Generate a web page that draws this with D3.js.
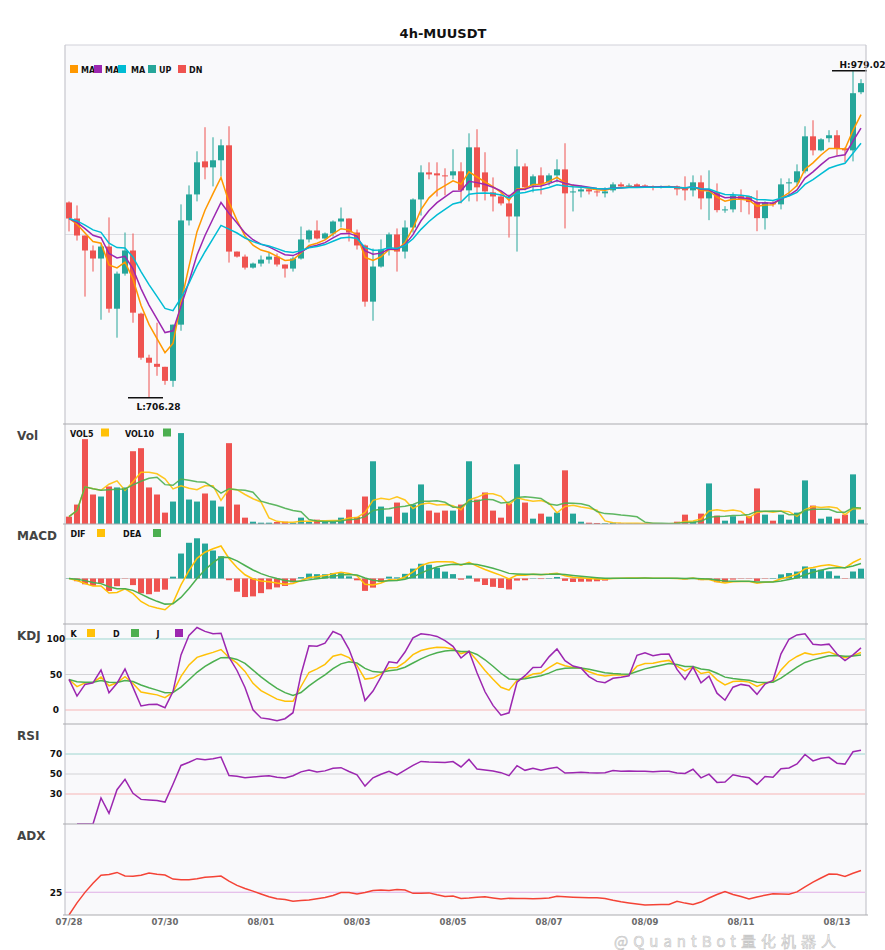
<!DOCTYPE html>
<html><head><meta charset="utf-8">
<script src="https://cdn.jsdelivr.net/npm/d3@7"></script>
<style>
body{margin:0;background:#fff;}
svg{display:block;font-family:"DejaVu Sans",sans-serif;}
</style>
</head><body>
<svg id="c" width="885" height="950"></svg>
<script>
// ---------- data ----------
const title = "4h-MUUSDT";
const openP = [869.4,856.0,841.8,829.3,822.6,832.6,780.7,810.0,829.3,776.6,
739.8,734.7,732.2,720.5,767.4,854.4,876.1,903.7,898.7,904.6,
917.1,828.4,824.2,815.0,818.4,821.7,824.2,817.6,814.2,822.6,
838.5,846.0,839.3,843.5,853.5,856.0,844.3,833.5,786.6,815.9,
830.1,842.7,828.4,848.5,871.9,894.5,893.7,892.0,892.0,895.4,
879.5,915.4,894.5,877.8,874.4,868.6,857.7,899.5,883.6,892.0,
886.2,892.0,897.0,877.8,878.6,880.3,878.6,877.0,879.5,884.5,
882.8,884.5,883.6,882.8,882.0,882.0,882.8,882.0,879.5,886.2,
872.8,878.0,863.0,863.6,874.7,874.7,869.7,856.3,869.2,867.8,
885.3,886.2,895.4,924.6,912.9,923.0,925.5,914.6,912.9,961.4];
const highP = [870.3,866.9,841.8,833.5,834.3,856.9,811.7,844.3,843.5,777.4,
742.3,769.0,732.2,767.4,867.8,883.6,912.1,932.2,923.8,922.1,
933.0,828.4,825.9,819.2,825.1,827.6,826.8,817.6,824.2,849.3,
846.8,854.4,844.3,854.4,865.2,856.0,846.8,834.3,830.9,838.5,
844.3,847.7,854.4,872.8,900.4,902.9,902.9,897.9,913.8,902.9,
927.1,930.5,911.3,890.3,877.0,876.1,913.8,902.0,892.8,898.7,
893.7,905.4,918.8,884.5,883.6,881.1,879.5,882.0,886.2,886.2,
885.3,885.3,884.5,883.6,883.6,883.6,883.6,891.2,892.0,892.0,
896.2,885.3,866.3,877.8,880.3,874.7,879.5,870.3,870.5,889.5,
889.5,901.2,933.0,938.0,923.0,929.7,929.7,915.4,979.02,972.3];
const lowP = [845.2,837.6,790.8,811.7,771.5,777.4,756.5,808.3,769.0,738.1,
706.28,724.7,717.2,715.5,762.3,850.2,870.3,888.7,882.8,891.2,
819.2,823.4,813.4,814.2,815.9,818.4,815.9,806.7,811.7,821.7,
836.0,838.5,838.5,841.0,848.5,836.8,830.1,782.4,770.7,815.0,
825.1,811.7,822.6,844.3,858.5,888.7,874.4,875.3,888.7,868.6,
870.3,870.3,871.1,861.9,866.9,840.1,828.4,879.5,877.8,876.1,
883.6,886.2,847.7,861.9,873.6,876.1,874.4,873.6,877.8,881.1,
882.0,882.0,882.0,879.5,881.1,882.0,875.3,871.1,874.4,863.6,
854.6,861.1,860.8,861.1,861.3,859.4,845.4,846.8,865.8,863.6,
874.7,882.8,893.7,908.7,912.1,919.6,908.7,902.9,903.7,959.8];
const closeP = [856.0,841.8,829.3,822.6,832.6,780.7,810.0,829.3,777.4,739.8,
735.6,732.2,720.5,767.4,854.4,876.1,902.9,898.7,904.6,917.1,
828.4,824.2,815.0,818.4,821.7,824.2,817.6,814.2,822.6,838.5,
846.0,839.3,843.5,853.5,856.0,844.3,833.5,786.6,815.9,830.1,
842.7,828.4,848.5,871.9,894.5,892.8,892.0,891.2,895.4,879.5,
915.4,882.0,878.6,874.4,868.6,857.7,899.5,882.0,891.2,884.5,
892.0,897.0,877.0,878.6,880.3,878.6,877.8,878.6,884.5,882.8,
883.6,882.8,882.8,882.0,882.8,882.8,880.3,879.5,886.2,872.8,
878.6,863.0,863.6,875.3,872.0,869.7,856.3,869.4,867.8,884.5,
886.2,895.4,924.6,912.9,922.1,925.5,914.6,912.9,960.6,969.0];
const volume = [7.3,19.3,84.3,29.3,27.3,37.3,36.3,36.3,72.3,75.3,
36.3,29.3,11.3,22.3,90.3,24.3,22.3,30.3,23.3,17.3,
80.3,19.3,6.3,2.3,1.3,1.3,2.0,2.3,1.3,6.3,
2.0,4.3,2.3,2.3,6.3,14.3,7.0,27.3,62.3,17.3,
7.3,21.3,11.3,19.3,39.3,13.3,11.3,13.3,13.3,19.3,
62.3,24.3,31.3,13.3,6.3,20.3,59.3,21.3,5.3,10.3,
7.3,11.3,53.3,10.3,2.3,1.3,1.0,0.7,1.3,0.5,
0.4,0.4,0.3,0.3,0.3,0.4,2.3,9.3,2.3,10.3,
40.3,8.3,3.3,7.7,3.3,7.7,35.3,9.3,3.3,9.3,
4.3,11.3,43.3,18.3,5.3,7.3,5.3,9.3,49.3,4.3];
const tickLabels = ["07/28","07/30","08/01","08/03","08/05","08/07","08/09","08/11","08/13"];
const maPeriods = [5, 8, 13];
const maLabels = ["MA","MA","MA"];
const volPeriods = [5, 10];
const macdParams = [6, 13, 5];
const rsiLevels = [30, 50, 70];
const kdjLevels = [0, 50, 100];
const adxLevels = [25];
const watermark = "@QuantBot量化机器人";

// ---------- layout / style ----------
const L = 65, R = 865;
const P = {main:[45,424], vol:[424,524], macd:[524,624], kdj:[624,724], rsi:[724,824], adx:[824,915]};
const UP = "#26A69A", DN = "#EF5350";
const C_MA = ["#FF9800","#9C27B0","#00BCD4"];
const AMBER = "#FFC107", GREEN = "#4CAF50", PURPLE = "#9C27B0";

const n = closeP.length;
const idx = d3.range(n);
const svg = d3.select("#c");

// ---------- indicators ----------
function ema(a, p){ const k = 2/(p+1); const o=[a[0]]; for(let i=1;i<a.length;i++) o.push(k*a[i]+(1-k)*o[i-1]); return o; }
function sma(a, p){ return a.map((v,i)=>d3.mean(a.slice(Math.max(0,i-p+1), i+1))); }
const maLines = maPeriods.map(p=>ema(closeP,p));
const volLines = volPeriods.map(p=>sma(volume,p));
const eFast = ema(closeP,macdParams[0]), eSlow = ema(closeP,macdParams[1]);
const dif = idx.map(i=>eFast[i]-eSlow[i]);
const dea = ema(dif,macdParams[2]);
const hist = idx.map(i=>2*(dif[i]-dea[i]));
// KDJ
const rsv = idx.map(i=>{
  const lo = d3.min(lowP.slice(Math.max(0,i-8),i+1)), hi = d3.max(highP.slice(Math.max(0,i-8),i+1));
  return hi===lo?50:(closeP[i]-lo)/(hi-lo)*100;
});
const K=[rsv[0]], D=[rsv[0]];
for(let i=1;i<n;i++){ K.push((2*K[i-1]+rsv[i])/3); D.push((2*D[i-1]+K[i])/3); }
const J = idx.map(i=>3*K[i]-2*D[i]);
// RSI
const rsi=[null]; { const a=1/14; let sg=0, sl=0;
  for(let i=1;i<n;i++){ const d=closeP[i]-closeP[i-1]; sg=Math.max(d,0)+(1-a)*sg; sl=Math.max(-d,0)+(1-a)*sl; rsi.push(sg+sl===0?50:100*sg/(sg+sl)); } }
// ADX
const adx=[]; { const a=2/15; let tr=0, pdm=0, mdm=0, ad=0;
  for(let i=0;i<n;i++){
    let t, p=0, m=0;
    if(i===0){ t=highP[0]-lowP[0]; }
    else { t=Math.max(highP[i]-lowP[i], Math.abs(highP[i]-closeP[i-1]), Math.abs(lowP[i]-closeP[i-1]));
      const up=highP[i]-highP[i-1], dn=lowP[i-1]-lowP[i];
      if(up>dn && up>0) p=up; if(dn>up && dn>0) m=dn; }
    if(i===0){ tr=t; pdm=p; mdm=m; } else { tr=tr+a*(t-tr); pdm=pdm+a*(p-pdm); mdm=mdm+a*(m-mdm); }
    const pdi=100*pdm/tr, mdi=100*mdm/tr;
    const dx=(pdi+mdi)===0?0:100*Math.abs(pdi-mdi)/(pdi+mdi);
    ad = i===0?dx:ad+a*(dx-ad); adx.push(ad);
  } }

// ---------- scales ----------
const x = d3.scaleBand().domain(idx).range([L,R]).paddingInner(0.25).paddingOuter(0.125);
const cx = i => x(i)+x.bandwidth()/2;
const lo = d3.min(lowP), hi = d3.max(highP), pr = hi-lo;
const y = d3.scaleLinear().domain([lo-0.08*pr, hi+0.08*pr]).range([P.main[1],P.main[0]]);
const yv = d3.scaleLinear().domain([0, d3.max(volume)*1.1]).range([P.vol[1],P.vol[0]]);
const mAll = dif.concat(dea,hist), mlo=d3.min(mAll), mhi=d3.max(mAll), mr=mhi-mlo;
const ym = d3.scaleLinear().domain([mlo-0.2*mr, mhi+0.2*mr]).range([P.macd[1],P.macd[0]]);
const yk = d3.scaleLinear().domain([-19.7,121.1]).range([P.kdj[1],P.kdj[0]]);
const yr = d3.scaleLinear().domain([0,100]).range([P.rsi[1],P.rsi[0]]);
const ya = d3.scaleLinear().domain([0,100]).range([P.adx[1],P.adx[0]]);

// ---------- backgrounds ----------
svg.append("rect").attr("x",L).attr("y",P.main[0]).attr("width",R-L+1).attr("height",P.adx[1]-P.main[0]).attr("fill","#f9f9fb");
const defs = svg.append("defs");
Object.entries(P).forEach(([k,[t,b]])=>{
  defs.append("clipPath").attr("id","clip-"+k).append("rect").attr("x",L).attr("y",t).attr("width",R-L+1).attr("height",b-t);
});
function layer(k){ return svg.append("g").attr("clip-path",`url(#clip-${k})`); }

// title
svg.append("text").attr("x",443).attr("y",38).attr("text-anchor","middle").attr("font-weight","bold").attr("font-size",13).attr("fill","#111").text(title);

// gridlines
function hline(g, yy, col){ g.append("line").attr("x1",L).attr("x2",R).attr("y1",yy).attr("y2",yy).attr("stroke",col).attr("stroke-width",1); }
const gMain = layer("main");
hline(gMain, y((y.domain()[0]+y.domain()[1])/2), "#dddde2");
const gMacd = layer("macd"); hline(gMacd, ym(0), "#d6d6d6");
const gK = layer("kdj");
const levelCol = v => v===50?"#d3d3d6":(v<50?"#f7b5b5":"#9ed6d0");
kdjLevels.forEach(v=>hline(gK, yk(v), levelCol(v)));
const gR = layer("rsi");
rsiLevels.forEach(v=>hline(gR, yr(v), levelCol(v)));
const gA = layer("adx");
adxLevels.forEach(v=>hline(gA, ya(v), "#dfaee6"));

// ---------- candles ----------
const bw = x.bandwidth();
const cg = gMain.append("g");
idx.forEach(i=>{
  const col = closeP[i]>=openP[i]?UP:DN;
  cg.append("line").attr("x1",cx(i)).attr("x2",cx(i)).attr("y1",y(highP[i])).attr("y2",y(lowP[i])).attr("stroke",col).attr("stroke-width",1);
  const t = y(Math.max(openP[i],closeP[i])), b = y(Math.min(openP[i],closeP[i]));
  cg.append("rect").attr("x",x(i)).attr("y",t).attr("width",bw).attr("height",Math.max(1,b-t)).attr("fill",col);
});
const lineGen = (ys, sc) => d3.line().defined(i=>ys[i]!=null).x(i=>cx(i)).y(i=>sc(ys[i]));
maLines.forEach((m,k)=>gMain.append("path").attr("d",lineGen(m,y)(idx)).attr("fill","none").attr("stroke",C_MA[k]).attr("stroke-width",1.5));

// H / L annotations
const iH = d3.maxIndex(highP), iL = d3.minIndex(lowP);
function mark(i, val, yy, ty){
  svg.append("line").attr("x1",cx(i)-21).attr("x2",cx(i)+14).attr("y1",yy).attr("y2",yy).attr("stroke","#111").attr("stroke-width",1.5);
  svg.append("text").attr("x",cx(i)+9.5).attr("y",ty).attr("text-anchor","middle").attr("font-weight","bold").attr("font-size",9).attr("fill","#111").text(val);
}
mark(iH, "H:"+highP[iH].toFixed(2), y(highP[iH])-0.5, y(highP[iH])-3.5);
mark(iL, "L:"+lowP[iL].toFixed(2), y(lowP[iL]), y(lowP[iL])+12.5);

// ---------- volume ----------
const gV = layer("vol");
idx.forEach(i=>{
  const col = closeP[i]>=openP[i]?UP:DN;
  gV.append("rect").attr("x",x(i)).attr("y",yv(volume[i])).attr("width",bw).attr("height",Math.max(0.3,yv(0)-yv(volume[i]))).attr("fill",col);
});
[AMBER,GREEN].forEach((c,k)=>gV.append("path").attr("d",lineGen(volLines[k],yv)(idx)).attr("fill","none").attr("stroke",c).attr("stroke-width",1.5).attr("opacity",0.9));

// ---------- MACD ----------
idx.forEach(i=>{
  const v=hist[i];
  gMacd.append("rect").attr("x",x(i)).attr("y",Math.min(ym(v),ym(0))).attr("width",bw).attr("height",Math.max(0.3,Math.abs(ym(v)-ym(0)))).attr("fill",v>=0?UP:DN);
});
gMacd.append("path").attr("d",lineGen(dif,ym)(idx)).attr("fill","none").attr("stroke",AMBER).attr("stroke-width",1.5);
gMacd.append("path").attr("d",lineGen(dea,ym)(idx)).attr("fill","none").attr("stroke",GREEN).attr("stroke-width",1.5);

// ---------- KDJ ----------
[[K,AMBER],[D,GREEN],[J,PURPLE]].forEach(([s,c])=>gK.append("path").attr("d",lineGen(s,yk)(idx)).attr("fill","none").attr("stroke",c).attr("stroke-width",1.5));
// ---------- RSI ----------
gR.append("path").attr("d",lineGen(rsi,yr)(idx)).attr("fill","none").attr("stroke",PURPLE).attr("stroke-width",1.5);
// ---------- ADX ----------
gA.append("path").attr("d",lineGen(adx,ya)(idx)).attr("fill","none").attr("stroke","#F44336").attr("stroke-width",1.5);

// ---------- borders ----------
svg.append("line").attr("x1",L).attr("x2",R+1).attr("y1",P.main[0]).attr("y2",P.main[0]).attr("stroke","#d2d2da").attr("stroke-width",1.2);
svg.append("line").attr("x1",L).attr("x2",L).attr("y1",P.main[0]).attr("y2",P.adx[1]).attr("stroke","#c6c6ce").attr("stroke-width",1.2);
svg.append("line").attr("x1",R+1).attr("x2",R+1).attr("y1",P.main[0]).attr("y2",P.adx[1]).attr("stroke","#c6c6ce").attr("stroke-width",1.2);
[P.vol[0],P.macd[0],P.kdj[0],P.rsi[0],P.adx[0],P.adx[1]].forEach(yy=>{
  svg.append("line").attr("x1",L-2).attr("x2",R+3).attr("y1",yy).attr("y2",yy).attr("stroke","#ababb0").attr("stroke-width",1.2);
});

// ---------- labels ----------
const panelLabels = [["Vol",P.vol[0]],["MACD",P.macd[0]],["KDJ",P.kdj[0]],["RSI",P.rsi[0]],["ADX",P.adx[0]]];
panelLabels.forEach(([t,top])=>svg.append("text").attr("x",17).attr("y",top+15.5).attr("font-weight","bold").attr("font-size",12).attr("fill","#444").text(t));
function ylab(v, yy){ svg.append("text").attr("x",56).attr("y",yy+3.3).attr("text-anchor","middle").attr("font-weight","bold").attr("font-size",9).attr("fill","#111").text(v); }
kdjLevels.forEach(v=>ylab(v, yk(v)));
rsiLevels.forEach(v=>ylab(v, yr(v)));
adxLevels.forEach(v=>ylab(v, ya(v)));
tickLabels.forEach((t,k)=>svg.append("text").attr("x",cx(k*12)).attr("y",924.5).attr("text-anchor","middle").attr("font-weight","bold").attr("font-size",8.5).attr("fill","#6a6a6a").text(t));

// legends
function legend(items, sqY, tY){
  items.forEach(it=>{
    if(it.text!=null) svg.append("text").attr("x",it.tx).attr("y",tY).attr("font-weight","bold").attr("font-size",8).attr("fill","#111").text(it.text);
    svg.append("rect").attr("x",it.sx).attr("y",sqY).attr("width",8).attr("height",8).attr("fill",it.c);
  });
}
legend([{text:maLabels[0],tx:81,sx:70,c:C_MA[0]},{text:maLabels[1],tx:105,sx:94,c:C_MA[1]},{text:maLabels[2],tx:131,sx:118,c:C_MA[2]},
        {text:"UP",tx:159,sx:148,c:UP},{text:"DN",tx:189,sx:178,c:DN}], 65, 72.5);
legend([{text:"VOL5",tx:70,sx:101,c:AMBER},{text:"VOL10",tx:125,sx:163,c:GREEN}], 428.5, 436.5);
legend([{text:"DIF",tx:70.5,sx:97,c:AMBER},{text:"DEA",tx:123,sx:153,c:GREEN}], 529, 537);
legend([{text:"K",tx:70.5,sx:87,c:AMBER},{text:"D",tx:113,sx:131,c:GREEN},{text:"J",tx:156.5,sx:175,c:PURPLE}], 629, 637);

// watermark (kept below the date labels)
svg.append("text").attr("x",614).attr("y",947).attr("font-family","'Noto Sans CJK SC',sans-serif").attr("font-size",15).attr("letter-spacing",5)
  .attr("fill","rgba(235,235,235,0.55)").attr("stroke","rgba(160,160,160,0.55)").attr("stroke-width",0.7).text(watermark);
</script>
</body></html>
